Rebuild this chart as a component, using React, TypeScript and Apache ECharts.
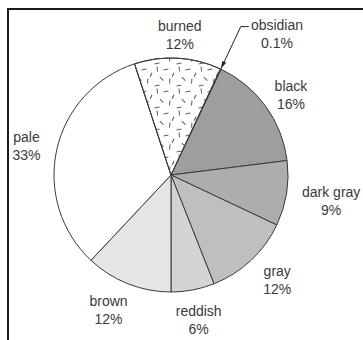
import React, { useEffect, useRef } from "react";
import * as echarts from "echarts";

const categories = ["obsidian", "black", "dark gray", "gray", "reddish", "brown", "pale", "burned"];
const values = [0.1, 16, 9, 12, 6, 12, 33, 12];
const percentLabels = ["0.1%", "16%", "9%", "12%", "6%", "12%", "33%", "12%"];
const colors = ["#2b2b2b", "#9d9ea0", "#acadaf", "#bebfc1", "#d3d4d6", "#e5e5e6", "#ffffff", "#ffffff"];
// per-label nudges [dx, dy]
const labelNudges: number[][] = [
  [43, -7],
  [0, 7],
  [14, 3],
  [5, -3],
  [0, 0],
  [-8, -3],
  [0, 3],
  [0, 8],
];

const CX = 171;
const CY = 175;
const R = 117;
const START = 65;
const FONT = "'Liberation Sans', Arial, sans-serif";

const dashPath =
  "path://M2,0L3,0L3.6,5L2.6,5Z M9,3L14,2L14,3L9,4Z M5,11L5.7,10.3L9.2,13.8L8.5,14.5Z M15,12L16,12L15.5,17L14.5,17Z M0,19L5,18L5,19L0,20Z M19,6L20,6.5L18.2,10.5L17.2,10Z";

export default function App() {
  const ref = useRef<HTMLDivElement>(null);
  useEffect(() => {
    if (!ref.current) return;
    const chart = echarts.init(ref.current, null, { renderer: "svg" });

    const mainData = categories.map((name, i) => {
      const item: any = {
        name,
        value: values[i],
        itemStyle: { color: colors[i] },
        label: { show: false },
        labelLine: { show: false },
      };
      if (name === "burned") {
        item.itemStyle.decal = {
          symbol: dashPath,
          symbolSize: 0.95,
          symbolKeepAspect: true,
          dashArrayX: [[21, 1]],
          dashArrayY: [21, 1],
          color: "#5a5a5a",
        };
      }
      if (name === "obsidian") {
        // leader line only; the text comes from the label ring below
        item.label = {
          show: true,
          position: "outside",
          distanceToLabelLine: 0,
          formatter: " ",
          fontSize: 4,
        };
        item.labelLine = { show: true, length: 47, length2: 8, lineStyle: { color: "#222", width: 1 } };
      }
      return item;
    });

    const labelData = categories.map((name, i) => ({
      name,
      value: values[i],
    }));

    // arrowhead at obsidian leader line end, derived from layout geometry
    const midDeg = START - (values[0] / 100) * 360 / 2;
    const a = (midDeg * Math.PI) / 180;
    const dx = Math.cos(a);
    const dy = -Math.sin(a);
    const px = -dy;
    const py = dx;
    const tip = [CX + dx * (R + 1), CY + dy * (R + 1)];
    const base = [CX + dx * (R + 8), CY + dy * (R + 8)];
    const arrow = [
      tip,
      [base[0] + px * 2.2, base[1] + py * 2.2],
      [base[0] - px * 2.2, base[1] - py * 2.2],
    ];

    chart.setOption({
      animation: false,
      backgroundColor: "#ffffff",
      series: [
        {
          type: "pie",
          center: [CX, CY],
          radius: [0, R],
          startAngle: START,
          clockwise: true,
          silent: true,
          avoidLabelOverlap: false,
          itemStyle: { borderColor: "#3a3a3a", borderWidth: 1 },
          emphasis: { disabled: true },
          data: mainData,
          z: 2,
        },
        {
          type: "pie",
          center: [CX, CY],
          radius: [0, 290],
          startAngle: START,
          clockwise: true,
          silent: true,
          avoidLabelOverlap: false,
          itemStyle: { color: "rgba(0,0,0,0)", borderWidth: 0 },
          emphasis: { disabled: true },
          label: {
            position: "inside",
            formatter: (p: any) => `${p.name}\n${percentLabels[p.dataIndex]}`,
            fontSize: 14,
            lineHeight: 18,
            fontFamily: FONT,
            color: "#3a3a3a",
            align: "center",
          },
          labelLayout: (p: any) => ({ dx: labelNudges[p.dataIndex][0], dy: labelNudges[p.dataIndex][1] }),
          labelLine: { show: false },
          data: labelData,
          z: 1,
        },
      ],
      graphic: [
        {
          type: "polygon",
          shape: { points: arrow },
          style: { fill: "#222" },
          z: 100,
        },
      ],
    });
    return () => chart.dispose();
  }, []);

  return (
    <>
      <div ref={ref} style={{ position: "absolute", left: 0, top: 0, width: 363, height: 340 }} />
      <div
        style={{
          position: "absolute",
          left: 7,
          top: 8,
          width: 356,
          height: 332,
          borderTop: "2px solid #1a1a1a",
          borderLeft: "2px solid #1a1a1a",
          boxSizing: "border-box",
          pointerEvents: "none",
        }}
      />
    </>
  );
}
